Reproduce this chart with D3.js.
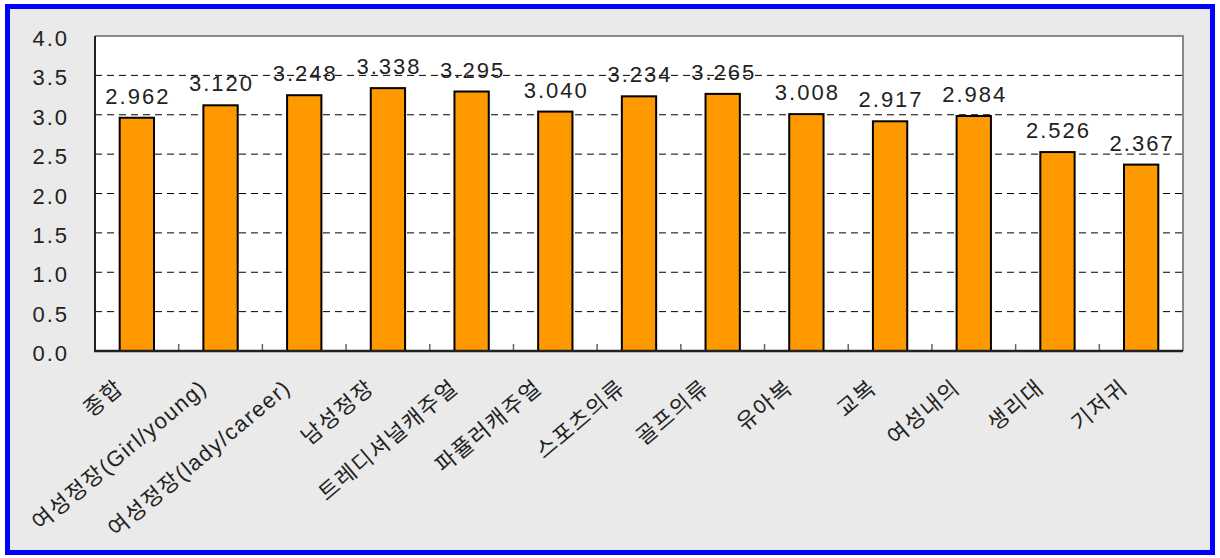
<!DOCTYPE html>
<html>
<head>
<meta charset="utf-8">
<script src="https://cdn.jsdelivr.net/npm/d3@7"></script>
<style>
  body { margin: 0; background: #fff; }
  text { font-family: "Liberation Sans", "Noto Sans CJK KR", sans-serif; fill: #222; }
</style>
</head>
<body>
<div id="chart"></div>
<script>
var categories = ["종합", "여성정장(Girl/young)", "여성정장(lady/career)", "남성정장", "트레디셔널캐주얼",
                  "파퓰러캐주얼", "스포츠의류", "골프의류", "유아복", "교복", "여성내의", "생리대", "기저귀"];
var values = [2.962, 3.120, 3.248, 3.338, 3.295, 3.040, 3.234, 3.265, 3.008, 2.917, 2.984, 2.526, 2.367];
var yTicks = [0, 0.5, 1.0, 1.5, 2.0, 2.5, 3.0, 3.5, 4.0];

var W = 1220, H = 558;
var pLeft = 95, pRight = 1183, pTop = 36, pBottom = 351;

var svg = d3.select("#chart").append("svg").attr("width", W).attr("height", H);

// outer frame
svg.append("rect").attr("x", 7.5).attr("y", 6.5).attr("width", W - 15).attr("height", H - 12)
    .attr("fill", "#eaeaea").attr("stroke", "#0000ff").attr("stroke-width", 5);

var x = d3.scaleBand().domain(categories).range([pLeft, pRight]).paddingInner(0).paddingOuter(0);
var y = d3.scaleLinear().domain([0, 4]).range([pBottom, pTop]);

svg.append("rect").attr("x", pLeft).attr("y", pTop).attr("width", pRight - pLeft).attr("height", pBottom - pTop)
    .attr("fill", "#fff");

// gridlines
svg.append("g").selectAll("line").data(yTicks.filter(function(d) { return d > 0 && d < 4; }))
    .enter().append("line")
    .attr("x1", pLeft).attr("x2", pRight)
    .attr("y1", function(d) { return y(d); }).attr("y2", function(d) { return y(d); })
    .attr("stroke", "#000").attr("stroke-width", 1).attr("stroke-dasharray", "7,5");

// frame: top/right gray, left/bottom dark
svg.append("path").attr("d", "M" + pLeft + "," + pTop + "H" + pRight + "V" + pBottom)
    .attr("fill", "none").attr("stroke", "#888").attr("stroke-width", 2);

// x ticks between bands (inside)
svg.append("g").selectAll("line").data(categories.slice(1))
    .enter().append("line")
    .attr("x1", function(d) { return x(d); }).attr("x2", function(d) { return x(d); })
    .attr("y1", pBottom).attr("y2", pBottom - 7)
    .attr("stroke", "#666").attr("stroke-width", 1.5);

// bars
var bw = x.bandwidth() * 0.41;
svg.append("g").selectAll("rect").data(values).enter().append("rect")
    .attr("x", function(d, i) { return x(categories[i]) + x.bandwidth() / 2 - bw / 2; })
    .attr("y", function(d) { return y(d); })
    .attr("width", bw)
    .attr("height", function(d) { return y(0) - y(d); })
    .attr("fill", "#ff9900").attr("stroke", "#000").attr("stroke-width", 2);

// value labels
svg.append("g").selectAll("text").data(values).enter().append("text")
    .attr("x", function(d, i) { return x(categories[i]) + x.bandwidth() / 2 + 1; })
    .attr("y", function(d) { return y(d) - 14; })
    .attr("text-anchor", "middle")
    .style("font-size", "22px").style("letter-spacing", "2px")
    .text(function(d) { return d.toFixed(3); });

svg.append("line").attr("x1", pLeft).attr("x2", pLeft).attr("y1", pTop).attr("y2", pBottom)
    .attr("stroke", "#222").attr("stroke-width", 2);
svg.append("line").attr("x1", pLeft - 1).attr("x2", pRight).attr("y1", pBottom).attr("y2", pBottom)
    .attr("stroke", "#222").attr("stroke-width", 2.5);

// y axis labels
svg.append("g").selectAll("text").data(yTicks).enter().append("text")
    .attr("x", 69).attr("y", function(d) { return y(d) + 10; })
    .attr("text-anchor", "end")
    .style("font-size", "22px").style("letter-spacing", "2px")
    .text(function(d) { return d.toFixed(1); });

// x labels rotated
svg.append("g").selectAll("text").data(categories).enter().append("text")
    .attr("transform", function(d) {
        return "translate(" + (x(d) + x.bandwidth() / 2 - 12) + "," + (pBottom + 39) + ") rotate(-40)";
    })
    .attr("text-anchor", "end")
    .style("font-size", "22px").style("letter-spacing", "1.5px")
    .text(function(d) { return d; });
</script>
</body>
</html>
